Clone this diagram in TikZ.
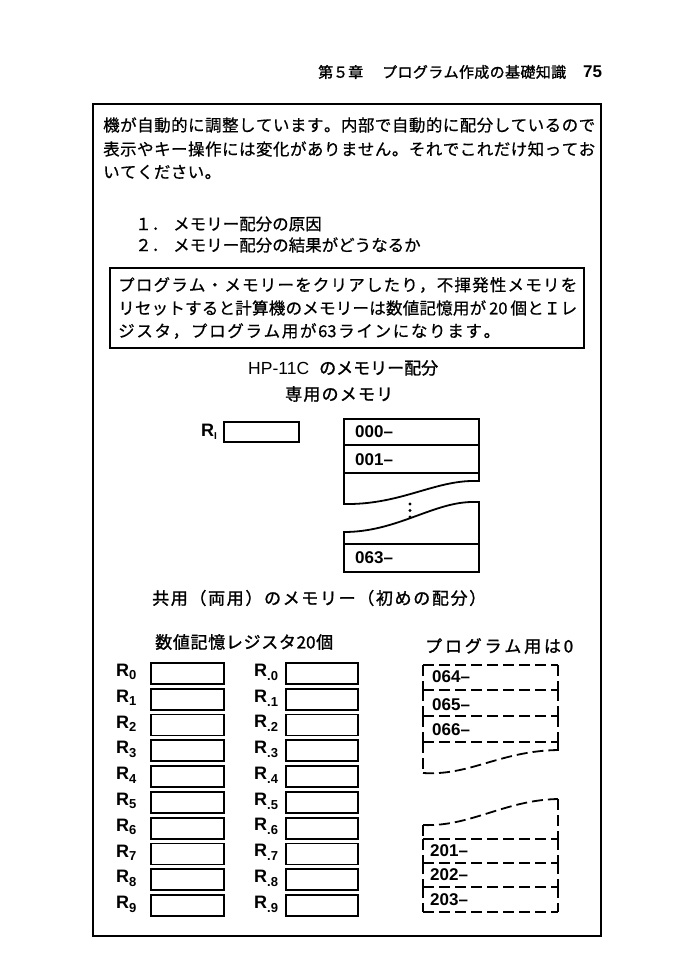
\documentclass[tikz,border=0pt]{standalone}
\usepackage{fontspec}
\setmainfont[FakeBold=0.6]{Noto Sans CJK JP}
\newfontfamily\jph[FakeBold=1.3]{Noto Sans CJK JP}
\newfontfamily\hv{Liberation Sans}
\makeatletter
\def\jl@#1{#1\@ifnextchar\relax{\jl@end}{\hfill\jl@}}
\def\jl@end\relax{}
\newcommand\jline[2]{\hbox to #1{\jl@#2\relax}}
\makeatother
\newcommand\fs[1]{\fontsize{#1}{#1}\selectfont}
\tikzset{
  txt/.style={inner sep=0pt, anchor=west},
  regbox/.style={draw, line width=1.8pt, anchor=north west, inner sep=0pt},
  mem/.style={line width=1.8pt},
  pd/.style={line width=1.8pt, dash pattern=on 11pt off 5pt},
  num/.style={txt, font=\hv\bfseries\fs{17}},
  reglab/.style={txt, font=\hv\bfseries\fs{18}}
}
\begin{document}
\begin{tikzpicture}[x=1pt,y=-1pt]
\fill[white] (0,0) rectangle (680,963);
\useasboundingbox (0,0) rectangle (680,963);
% header
\node[txt] (h1) at (318,72) {\jph\fs{15}\jline{44pt}{第５章}};
\node[txt] (h2) at (382,72) {\jph\fs{15}\jline{184pt}{プログラム作成の基礎知識}};
\node[txt] (h3) at (583,72) {\hv\bfseries\fs{17}75};
% frame
\draw[line width=1.3pt] (93,104) rectangle (601,936);
% paragraph
\node[txt] (p1) at (103,125) {\fs{16.5}\jline{492pt}{機が自動的に調整しています。内部で自動的に配分しているので}};
\node[txt] (p2) at (103,149) {\fs{16.5}\jline{492pt}{表示やキー操作には変化がありません。それでこれだけ知ってお}};
\node[txt] (p3) at (103,172) {\fs{16.5}\jline{118pt}{いてください。}};
% list
\node[txt] (l1n) at (135,224) {\fs{16.5}１．};
\node[txt] (l1) at (173,224) {\fs{16.5}\jline{148pt}{メモリー配分の原因}};
\node[txt] (l2n) at (135,245) {\fs{16.5}２．};
\node[txt] (l2) at (173,245) {\fs{16.5}\jline{246pt}{メモリー配分の結果がどうなるか}};
% inner box
\draw[line width=1.2pt] (110,268) rectangle (584,348);
\node[txt] (b1) at (118,285) {\fs{16.5}\jline{459pt}{プログラム・メモリーをクリアしたり，不揮発性メモリを}};
\node[txt] (b2) at (118,308) {\fs{16.5}\jline{459pt}{リセットすると計算機のメモリーは数値記憶用が{\,20\,}個とＩレ}};
\node[txt] (b3) at (118,331) {\fs{16.5}\jline{382pt}{ジスタ，プログラム用が{63}ラインになります。}};
% titles
\node[txt] (t1a) at (248,368) {\hv\fs{17.5}HP-11C};
\node[txt] (t1b) at (319,368) {\jph\fs{17}\jline{119pt}{のメモリー配分}};
\node[txt] (t2) at (285,394) {\jph\fs{17}\jline{108pt}{専用のメモリ}};
% R_I
\node[reglab] (rilab) at (201,432) {R\raisebox{-3pt}{\fs{10}I}};
\node[regbox, minimum width=75pt, minimum height=20pt] (ri) at (223,421) {};
% dedicated program memory
\draw[mem] (344,419) rectangle (479,445);
\draw[mem] (344,445) rectangle (479,473);
\draw[mem] (479,473) -- (479,481) -- (471,481) .. controls (432,482) and (398,505) .. (344,504) -- (344,473);
\draw[mem] (344,572) -- (344,532) .. controls (396,532) and (432,503) .. (471,502) -- (479,502) -- (479,572) -- cycle;
\draw[mem] (344,544) -- (479,544);
\fill (410,504) circle (1.7) (410,510.5) circle (1.7) (410,517) circle (1.7);
\node[num] (m0) at (355,432) {000–};
\node[num] (m1) at (355,460) {001–};
\node[num] (m63) at (355,558) {063–};
% shared memory titles
\node[txt] (s1) at (152,598) {\jph\fs{17}\jline{334pt}{共用（両用）のメモリー（初めの配分）}};
\node[txt] (s2) at (155,642) {\jph\fs{17}\jline{178pt}{数値記憶レジスタ{20}個}};
\node[txt] (s3) at (425,646) {\jph\fs{17}\jline{148pt}{プログラム用は{0}}};
% registers
\foreach \i in {0,...,9} {
  \pgfmathsetmacro\yy{662+25.8*\i}
  \node[regbox, minimum width=73pt, minimum height=21pt] (L\i) at (150,\yy) {};
  \node[regbox, minimum width=72pt, minimum height=21pt] (D\i) at (285,\yy) {};
  \node[reglab] (LR\i) at (116,\yy+10) {R\raisebox{-3.5pt}{\fs{13}\i}};
  \node[reglab] (DR\i) at (254,\yy+10) {R\raisebox{-4pt}{\fs{13}.\i}};
}
% shared program memory (dashed)
\foreach \t/\b in {665/690, 690/716, 716/742} {
  \draw[pd] (423,\t) -- (558,\t);
  \draw[pd] (423,\t) -- (423,\b);
  \draw[pd] (558,\t) -- (558,\b);
}
\draw[pd] (423,742) -- (558,742);
\draw[pd] (558,742) -- (558,751);
\draw[pd] (423,742) -- (423,773);
\draw[pd] (423,773) .. controls (470,776) and (500,751) .. (558,750);
\draw[pd] (423,825) .. controls (470,827) and (505,800) .. (558,799);
\draw[pd] (558,799) -- (558,839);
\draw[pd] (423,825) -- (423,839);
\foreach \t/\b in {839/863, 863/887, 887/912} {
  \draw[pd] (423,\t) -- (558,\t);
  \draw[pd] (423,\t) -- (423,\b);
  \draw[pd] (558,\t) -- (558,\b);
}
\draw[pd] (423,912) -- (558,912);
\node[num] (p64) at (432,677) {064–};
\node[num] (p65) at (432,705) {065–};
\node[num] (p66) at (432,730) {066–};
\node[num] (p201) at (430,851) {201–};
\node[num] (p202) at (430,875) {202–};
\node[num] (p203) at (430,900) {203–};
\end{tikzpicture}
\end{document}
